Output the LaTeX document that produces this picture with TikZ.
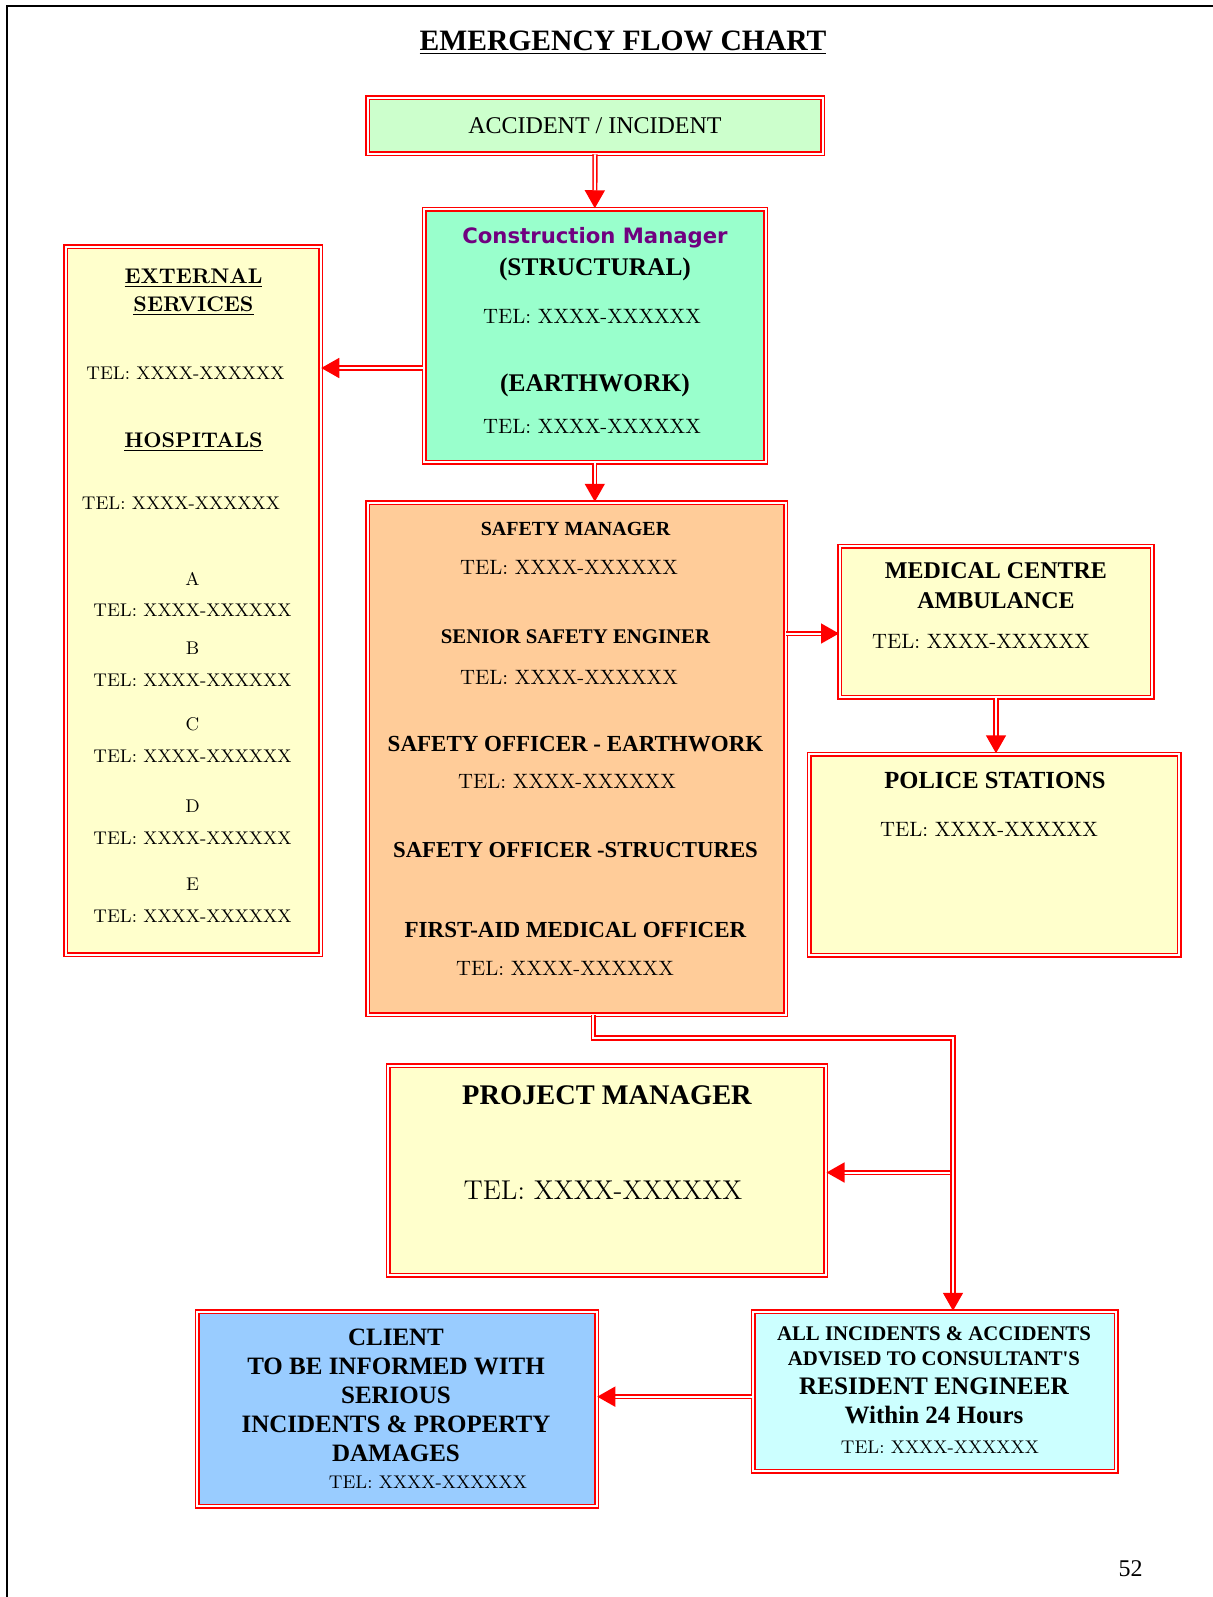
\documentclass[tikz,border=0pt]{standalone}
\usepackage{fontspec}
\newfontfamily\timesfont{Liberation Serif}
\newfontfamily\dejafont{DejaVu Sans}
\usetikzlibrary{arrows.meta}

\begin{document}
\begin{tikzpicture}[x=0.5pt,y=-0.5pt,
	box/.style={draw=red,double=white,line width=0.75pt,double distance=1pt,inner sep=0pt},
	conn/.style={draw=red,double=white,line width=0.8pt,double distance=1pt,-{Triangle[length=9pt,width=10pt]}},
	tel/.style={inner sep=0pt,font=\fontsize{#1}{12}\selectfont},
	tel/.default=10.4,
	hd/.style={inner sep=0pt,font=\timesfont\bfseries\fontsize{#1}{14}\selectfont},
	lm/.style={inner sep=0pt,font=\bfseries\fontsize{10.6}{12}\selectfont}]
	
	\definecolor{accgreen}{RGB}{204,255,204}
	\definecolor{cmgreen}{RGB}{153,255,204}
	\definecolor{paleyel}{RGB}{255,255,204}
	\definecolor{peach}{RGB}{255,204,153}
	\definecolor{skyblue}{RGB}{153,204,255}
	\definecolor{palecyan}{RGB}{204,255,255}
	\definecolor{cmpurple}{RGB}{112,0,128}
	
	\useasboundingbox (0,0) rectangle (1213,1597);
	\draw[line width=1pt] (7,1597) -- (7,6) -- (1213,6);
	
	\node[hd=14.8] (title) at (623,43) {\underline{EMERGENCY FLOW CHART}};
	\node[font=\timesfont\fontsize{12}{14}\selectfont] (page) at (1130.5,1568.5) {52};
	
	% boxes
	\node[box,fill=accgreen,minimum width=227.5pt,minimum height=28pt,font=\timesfont\fontsize{12}{14}\selectfont] (acc) at (595,125.5) {ACCIDENT / INCIDENT};
	\node[box,fill=cmgreen,minimum width=170.75pt,minimum height=126.5pt] (cm) at (594.8,335.5) {};
	\node[box,fill=paleyel,minimum width=127.5pt,minimum height=354pt] (ext) at (193,600.5) {};
	\node[box,fill=peach,minimum width=209pt,minimum height=256pt] (saf) at (576.5,758.5) {};
	\node[box,fill=paleyel,minimum width=156.25pt,minimum height=75.5pt] (med) at (996,621.5) {};
	\node[box,fill=paleyel,minimum width=185pt,minimum height=100.5pt] (pol) at (994,854.5) {};
	\node[box,fill=paleyel,minimum width=218.75pt,minimum height=104.75pt] (pm) at (607,1170.7) {};
	\node[box,fill=skyblue,minimum width=199.75pt,minimum height=97.25pt] (cli) at (396.75,1408.75) {};
	\node[box,fill=palecyan,minimum width=181.5pt,minimum height=79.75pt] (res) at (934.5,1391.25) {};
	
	% construction manager
	\node[inner sep=0pt,font=\dejafont\bfseries\fontsize{10.6}{12}\selectfont,text=cmpurple] (cmhead) at (595,238) {Construction Manager};
	\node[hd=12.7] (cmstr) at (595,269) {(STRUCTURAL)};
	\node[tel] (cmstrtel) at (592,316) {TEL: XXXX-XXXXXX};
	\node[hd=12.7] (cmearth) at (595,385) {(EARTHWORK)};
	\node[tel] (cmearthtel) at (592,426) {TEL: XXXX-XXXXXX};
	
	% external services
	\node[lm] (exthead1) at (193.5,278) {\underline{EXTERNAL}};
	\node[lm] (exthead2) at (193.5,306.5) {\underline{SERVICES}};
	\node[tel=9.2] (exttel) at (185.5,373) {TEL: XXXX-XXXXXX};
	\node[lm] (hosphead) at (193.5,442) {\underline{HOSPITALS}};
	\node[tel=9.2] (hosptel) at (181,503) {TEL: XXXX-XXXXXX};
	\foreach \h/\y in {A/578.5,B/648,C/724,D/806.5,E/884}{
		\node[tel=9.2] (hosp\h) at (192.5,\y) {\h};
		\node[tel=9.2] (hosptel\h) at (192.5,\y+32) {TEL: XXXX-XXXXXX};
	}
	
	% safety
	\node[hd=10] (safmgr) at (575.5,528.6) {SAFETY MANAGER};
	\node[tel] (safmgrtel) at (569,567) {TEL: XXXX-XXXXXX};
	\node[hd=10.4] (safsen) at (575.5,636.6) {SENIOR SAFETY ENGINER};
	\node[tel] (safsentel) at (569,677) {TEL: XXXX-XXXXXX};
	\node[hd=11.5] (safearth) at (575.5,744.5) {SAFETY OFFICER - EARTHWORK};
	\node[tel] (safearthtel) at (567,781) {TEL: XXXX-XXXXXX};
	\node[hd=11.4] (safstr) at (575.5,850.5) {SAFETY OFFICER -STRUCTURES};
	\node[hd=11.5] (safaid) at (575.5,930) {FIRST-AID MEDICAL OFFICER};
	\node[tel] (safaidtel) at (565,968.6) {TEL: XXXX-XXXXXX};
	
	% medical, police
	\node[hd=12] (medhead1) at (996,571) {MEDICAL CENTRE};
	\node[hd=12] (medhead2) at (996,601) {AMBULANCE};
	\node[tel] (medtel) at (981,641.6) {TEL: XXXX-XXXXXX};
	\node[hd=12.3] (polhead) at (995,780) {POLICE STATIONS};
	\node[tel] (poltel) at (989,829) {TEL: XXXX-XXXXXX};
	
	% project manager
	\node[hd=14.2] (pmhead) at (607,1095) {PROJECT MANAGER};
	\node[tel=13.6] (pmtel) at (603,1190.6) {TEL: XXXX-XXXXXX};
	
	% client, resident engineer
	\node[inner sep=0pt,align=center,font=\timesfont\bfseries\fontsize{12.5}{14.5}\selectfont] (clitext) at (396,1395) {CLIENT\\TO BE INFORMED WITH\\SERIOUS\\INCIDENTS \& PROPERTY\\DAMAGES};
	\node[tel=9.2] (clitel) at (428,1482) {TEL: XXXX-XXXXXX};
	\node[hd=10.4] (reshead1) at (934,1334) {ALL INCIDENTS \& ACCIDENTS};
	\node[hd=10.4] (reshead2) at (934,1359) {ADVISED TO CONSULTANT'S};
	\node[hd=12.6] (reshead3) at (934,1386) {RESIDENT ENGINEER};
	\node[hd=12.5] (reshead4) at (934,1415) {Within 24 Hours};
	\node[tel=9.2] (restel) at (940,1447) {TEL: XXXX-XXXXXX};
	
	% connectors
	\coordinate (extin) at ([yshift=-16.25pt]cm.west);
	\coordinate (medin) at ([yshift=-6pt]med.west);
	\coordinate (cliin) at ([yshift=-2.7pt]res.west);
	\coordinate (turn) at (953,1038);
	\coordinate (branch) at (950.4,1172.5);
	
	\draw[conn] (acc.south) -- (cm.north);
	\draw[conn] (extin) -- (extin -| ext.east);
	\draw[conn] (cm.south) -- (cm.south |- saf.north);
	\draw[conn] (saf.east |- medin) -- (medin);
	\draw[conn] (med.south) -- (med.south |- pol.north);
	\draw[conn] ([xshift=8.4pt]saf.south) |- (turn) -- (turn |- res.north);
	\draw[conn] (branch) -- (branch -| pm.east);
	\draw[conn] (cliin) -- (cliin -| cli.east);
\end{tikzpicture}
\end{document}
